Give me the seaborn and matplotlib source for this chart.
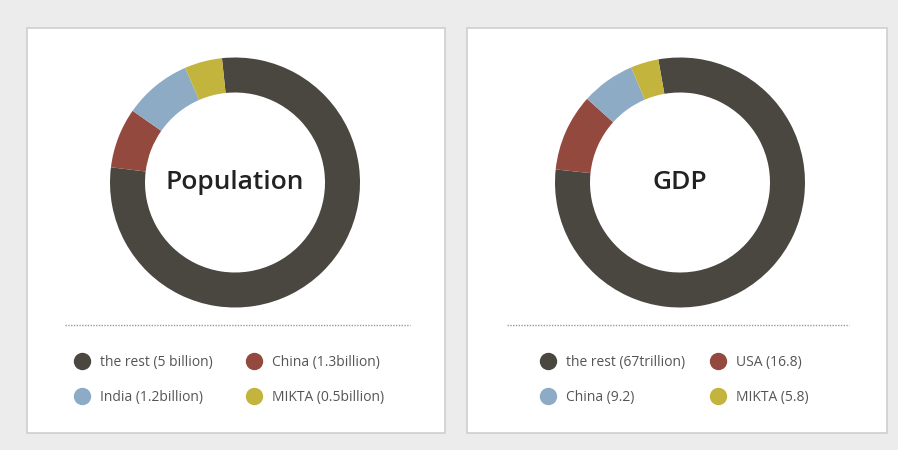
import matplotlib.pyplot as plt
import seaborn as sns
from matplotlib.lines import Line2D
from matplotlib.patches import Rectangle

# twee donut charts: bevolking en BBP
sns.set_theme(style="white")
plt.rcParams['font.family'] = ['Open Sans', 'DejaVu Sans']

# data
pop_labels = ['the rest (5 billion)', 'China (1.3billion)', 'India (1.2billion)', 'MIKTA (0.5billion)']
pop_share = [283, 28, 31.5, 17.5]

gdp_labels = ['the rest (67trillion)', 'USA (16.8)', 'China (9.2)', 'MIKTA (5.8)']
gdp_share = [286, 36, 25, 13]

kleuren = ['#4a4640', '#94493f', '#8eabc6', '#c2b43c']

W, H = 898, 450
fig = plt.figure(figsize=(W / 100, H / 100), dpi=100)
fig.patch.set_facecolor('#ececec')


def px(x0, y0, w, h):
    # pixel box (top-left origin) -> figure fractions
    return [x0 / W, 1 - (y0 + h) / H, w / W, h / H]


def paneel(left, right, cx, titel, share, labels, start, leg_x, colsp, line_x):
    b = px(left, 28, right - left, 405)
    fig.patches.append(Rectangle((b[0], b[1]), b[2], b[3], transform=fig.transFigure,
                                 facecolor='white', edgecolor='#cfcfcf', lw=1.2, zorder=-1))
    r = 125
    ax = fig.add_axes(px(cx - r, 182.5 - r, 2 * r, 2 * r))
    ax.set_zorder(2)
    ax.pie(share, colors=kleuren, startangle=start, counterclock=False,
           wedgeprops=dict(width=0.28, linewidth=0))
    ax.set_xlim(-1, 1)
    ax.set_ylim(-1, 1)
    ax.set_aspect('equal')
    ax.axis('off')
    ax.text(0, 0, titel, ha='center', va='center', fontsize=19, weight='semibold', color='#222222')

    # stippellijn
    fig.add_artist(Line2D([line_x[0] / W, line_x[1] / W], [1 - 325 / H] * 2, transform=fig.transFigure,
                          color='#9a9a9a', lw=1, ls=(0, (1, 1))))

    # legenda: rij 1 = item 0 en 1, rij 2 = item 2 en 3
    volgorde = [0, 2, 1, 3]
    handles = [Line2D([], [], marker='o', ls='', markersize=11.5, color=kleuren[i]) for i in volgorde]
    fig.legend(handles, [labels[i] for i in volgorde], ncol=2, loc='upper left',
               bbox_to_anchor=(leg_x / W, 1 - 355 / H), frameon=False, fontsize=10,
               labelcolor='#555555', handlelength=0.8, handletextpad=0.9,
               columnspacing=colsp, labelspacing=1.42, borderpad=0, borderaxespad=0)


paneel(27, 445, 235, 'Population', pop_share, pop_labels, 96, 76, 2.6, (65, 410))
paneel(467, 887, 680, 'GDP', gdp_share, gdp_labels, 100, 542, 1.98, (507, 849))

fig.savefig('out.png', dpi=100, facecolor=fig.get_facecolor())
